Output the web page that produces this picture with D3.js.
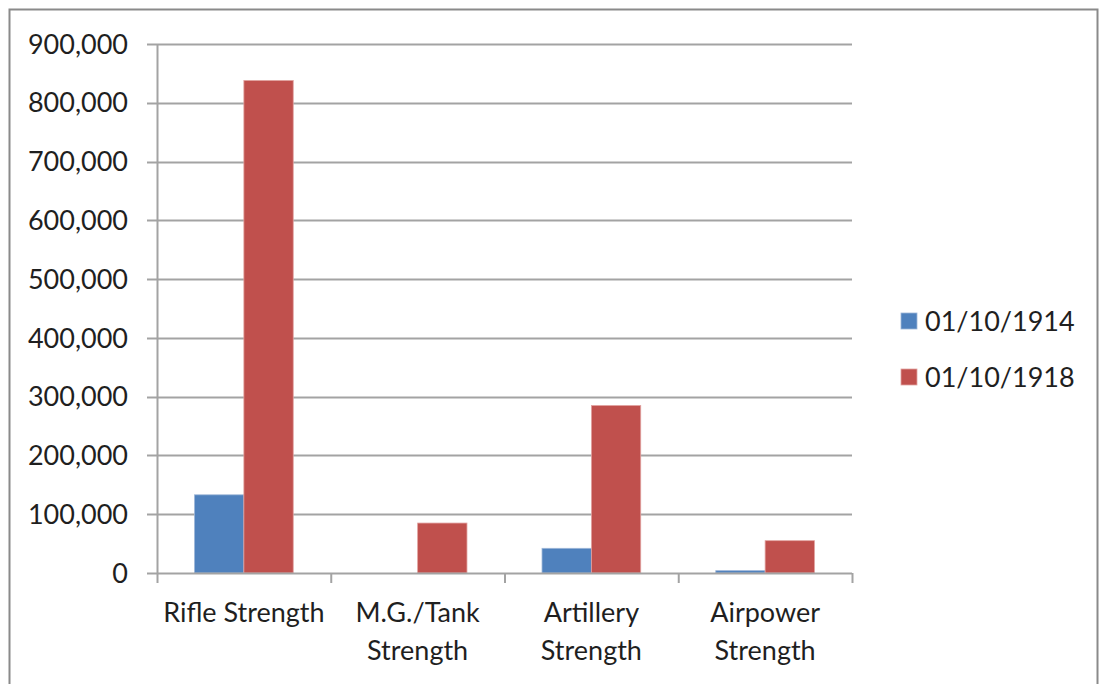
<!DOCTYPE html>
<html>
<head>
<meta charset="utf-8">
<script src="https://cdn.jsdelivr.net/npm/d3@7"></script>
<style>
  html, body { margin: 0; padding: 0; background: #fff; }
  svg { display: block; }
  text { font-family: Lato, "Open Sans", sans-serif; fill: #1f1f1f; }
</style>
</head>
<body>
<svg id="chart" width="1100" height="684"></svg>
<script>
// Strength by arm, October 1914 vs October 1918
const categories = ["Rifle Strength", "M.G./Tank Strength", "Artillery Strength", "Airpower Strength"];
const seriesNames = ["01/10/1914", "01/10/1918"];
const values1914 = [133000, 0, 42000, 4000];
const values1918 = [838000, 85000, 285000, 55000];
const yTicks = [0, 100000, 200000, 300000, 400000, 500000, 600000, 700000, 800000, 900000];
const colors = ["#4F81BD", "#C0504D"];
const strokes = ["#9db6d8", "#e2a3a1"];

const svg = d3.select("#chart");
const W = 1100, H = 684;
const plot = { left: 157, right: 852, top: 44, bottom: 573 };
const fontSize = 27;

// outer chart frame
svg.append("rect")
  .attr("x", 9.5).attr("y", 9.5)
  .attr("width", 1088).attr("height", 700)
  .attr("fill", "none")
  .attr("stroke", "#8a8a8a")
  .attr("stroke-width", 2);

const y = d3.scaleLinear().domain([0, 900000]).range([plot.bottom, plot.top]);
const x0 = d3.scaleBand().domain(categories).range([plot.left, plot.right]).paddingInner(0).paddingOuter(0);
const x1 = d3.scaleBand().domain(seriesNames).range([0, x0.bandwidth()]).paddingInner(0).paddingOuter(0.76);

const grid = "#a3a3a3";

// horizontal gridlines with left tick stubs
svg.append("g").selectAll("line")
  .data(yTicks.filter(d => d > 0))
  .join("line")
  .attr("x1", plot.left - 10).attr("x2", plot.right)
  .attr("y1", d => Math.round(y(d)) + 0.5).attr("y2", d => Math.round(y(d)) + 0.5)
  .attr("stroke", grid).attr("stroke-width", 2);

// y tick labels
const fmt = d3.format(",");
svg.append("g").selectAll("text")
  .data(yTicks)
  .join("text")
  .attr("x", 128)
  .attr("y", d => y(d))
  .attr("dy", "0.36em")
  .attr("text-anchor", "end")
  .style("font-size", fontSize + "px")
  .text(d => fmt(d));

// bars
const rows = categories.map((c, i) => ({ cat: c, vals: [values1914[i], values1918[i]] }));
const groups = svg.append("g").selectAll("g")
  .data(rows)
  .join("g")
  .attr("transform", d => `translate(${x0(d.cat)},0)`);

groups.selectAll("rect")
  .data(d => d.vals.map((v, j) => ({ name: seriesNames[j], v, j })))
  .join("rect")
  .filter(d => d.v > 0)
  .attr("x", d => x1(d.name))
  .attr("width", x1.bandwidth())
  .attr("y", d => y(d.v))
  .attr("height", d => y(0) - y(d.v))
  .attr("fill", d => colors[d.j])
  .attr("stroke", d => strokes[d.j])
  .attr("stroke-width", 0.8);

// y axis line
svg.append("line")
  .attr("x1", plot.left + 0.5).attr("x2", plot.left + 0.5)
  .attr("y1", plot.top).attr("y2", plot.bottom + 1)
  .attr("stroke", grid).attr("stroke-width", 2);

// x axis line and 0 stub
svg.append("line")
  .attr("x1", plot.left - 10).attr("x2", plot.right)
  .attr("y1", plot.bottom + 0.5).attr("y2", plot.bottom + 0.5)
  .attr("stroke", grid).attr("stroke-width", 2);

// category boundary ticks
const bounds = categories.map(c => x0(c)).concat([plot.right]);
svg.append("g").selectAll("line")
  .data(bounds)
  .join("line")
  .attr("x1", d => d + 0.5).attr("x2", d => d + 0.5)
  .attr("y1", plot.bottom).attr("y2", plot.bottom + 10)
  .attr("stroke", grid).attr("stroke-width", 2);

// category labels, wrapped to the band width
const labels = svg.append("g").selectAll("text")
  .data(categories)
  .join("text")
  .attr("text-anchor", "middle")
  .attr("x", d => x0(d) + x0.bandwidth() / 2)
  .attr("y", 622)
  .style("font-size", fontSize + "px");

labels.each(function(d) {
  const t = d3.select(this);
  const words = d.split(" ");
  const cx = x0(d) + x0.bandwidth() / 2;
  let lines = [];
  let line = [];
  const probe = t.append("tspan");
  words.forEach(w => {
    const trial = line.concat([w]).join(" ");
    probe.text(trial);
    if (probe.node().getComputedTextLength() > x0.bandwidth() && line.length) {
      lines.push(line.join(" "));
      line = [w];
    } else {
      line.push(w);
    }
  });
  lines.push(line.join(" "));
  probe.remove();
  lines.forEach((l, i) => {
    t.append("tspan").attr("x", cx).attr("dy", i === 0 ? 0 : 38).text(l);
  });
});

// legend
const legend = svg.append("g").selectAll("g")
  .data(seriesNames)
  .join("g")
  .attr("transform", (d, i) => `translate(901,${321 + i * 56})`);
legend.append("rect")
  .attr("x", 0).attr("y", -8)
  .attr("width", 16).attr("height", 16)
  .attr("fill", (d, i) => colors[i])
  .attr("stroke", (d, i) => strokes[i])
  .attr("stroke-width", 0.8);
legend.append("text")
  .attr("x", 24).attr("y", 0).attr("dy", "0.36em")
  .style("font-size", fontSize + "px")
  .text(d => d);
</script>
</body>
</html>
